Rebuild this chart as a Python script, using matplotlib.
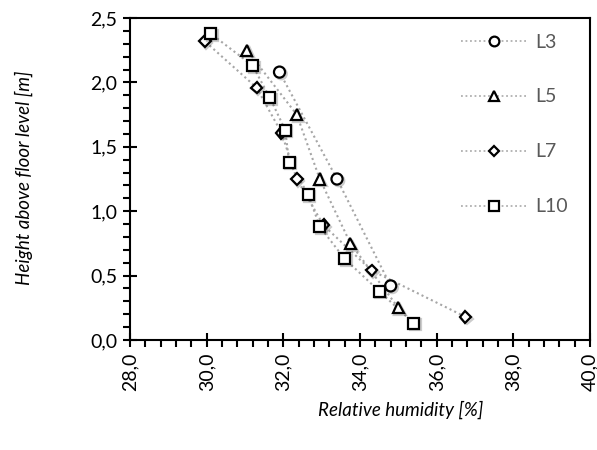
import matplotlib
matplotlib.use("Agg")
import matplotlib.pyplot as plt
import matplotlib.patheffects as pe
from matplotlib.ticker import MultipleLocator, FuncFormatter

plt.rcParams['font.family'] = ['Lato', 'DejaVu Sans']

# relative humidity [%] vs height [m] for each line
l3_x = [34.8, 33.4, 31.9]
l3_y = [0.42, 1.25, 2.08]

l5_x = [35.0, 33.75, 32.95, 32.35, 31.05]
l5_y = [0.25, 0.75, 1.25, 1.75, 2.25]

l7_x = [36.75, 34.3, 33.05, 32.35, 31.95, 31.3, 29.95]
l7_y = [0.18, 0.54, 0.89, 1.25, 1.61, 1.96, 2.32]

l10_x = [35.4, 34.5, 33.6, 32.95, 32.65, 32.15, 32.05, 31.65, 31.2, 30.1]
l10_y = [0.13, 0.38, 0.63, 0.88, 1.13, 1.38, 1.63, 1.88, 2.13, 2.38]

series = [("L3", l3_x, l3_y, "o", 8),
          ("L5", l5_x, l5_y, "^", 8),
          ("L7", l7_x, l7_y, "D", 6),
          ("L10", l10_x, l10_y, "s", 8)]

fig = plt.figure(figsize=(5.97, 4.5), dpi=100)
ax = fig.add_axes([0.2178, 0.2444, 0.7705, 0.7156])

shadow = [pe.SimpleLineShadow(offset=(1.2, -1.2), shadow_color='k', alpha=0.2), pe.Normal()]

for name, xs, ys, mk, ms in series:
    ax.plot(xs, ys, linestyle=(0, (1, 1.5)), color='#a6a6a6', lw=1.5, zorder=2)
    ax.plot(xs, ys, linestyle='none', marker=mk, ms=ms, mfc='white', mec='black',
            mew=1.6, zorder=3, path_effects=shadow)
    # legend proxy
    ax.plot([], [], linestyle=(0, (1, 1.5)), color='#b0b0b0', lw=1.3,
            marker=mk, ms=ms - 1, mfc='white', mec='black', mew=1.6, label=name)

ax.set_xlim(28, 40)
ax.set_ylim(0, 2.5)
ax.xaxis.set_major_locator(MultipleLocator(2))
ax.xaxis.set_minor_locator(MultipleLocator(0.4))
ax.yaxis.set_major_locator(MultipleLocator(0.5))
ax.yaxis.set_minor_locator(MultipleLocator(0.1))
fmt = FuncFormatter(lambda v, p: f"{v:.1f}".replace('.', ','))
ax.xaxis.set_major_formatter(fmt)
ax.yaxis.set_major_formatter(fmt)

ax.tick_params(which='major', direction='inout', length=10, width=1.5, labelsize=14, pad=4)
ax.tick_params(which='minor', direction='out', length=5, width=1.5)
ax.tick_params(axis='x', labelrotation=90)
for s in ax.spines.values():
    s.set_linewidth(1.5)

leg = ax.legend(loc='upper right', frameon=False, fontsize=14, labelspacing=1.95,
                handlelength=3.4, handletextpad=0.4, borderaxespad=0.4,
                bbox_to_anchor=(0.985, 1.0))
for t in leg.get_texts():
    t.set_color('#595959')

fig.text(0.04, 0.604, "Height above floor level [m]", rotation=90, fontsize=13.5,
         style='italic', ha='center', va='center')
fig.text(0.672, 0.089, "Relative humidity [%]", fontsize=13.5, style='italic',
         ha='center', va='center')

fig.savefig("out.png", dpi=100)
